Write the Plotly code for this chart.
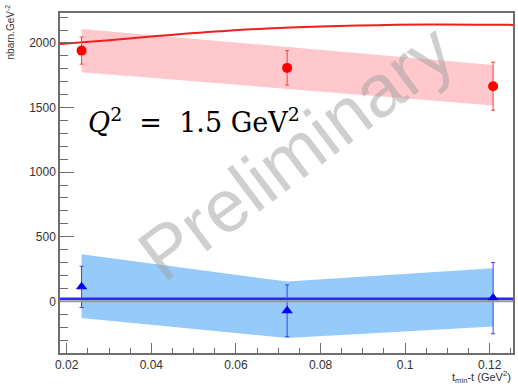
import plotly.graph_objects as go

# data
x_pts = [0.0235, 0.0721, 0.1208]

red_y = [1941, 1807, 1665]
red_err = [105, 133, 186]
red_band_hi = [2108, 1969, 1830]
red_band_lo = [1773, 1645, 1516]

blue_y = [112, -73, 25]
blue_err = [160, 200, 276]
blue_band_hi = [364, 153, 256]
blue_band_lo = [-130, -284, -194]

curve_x = [0.0184, 0.03, 0.042, 0.058, 0.073, 0.089, 0.105, 0.1255]
curve_y = [1992, 2022, 2056, 2095, 2120, 2135, 2143, 2140]

blue_line_x = [0.0184, 0.1255]
blue_line_y = [20, 20]

x_range = [0.0184, 0.1255]
y_range = [-400, 2232]

fig = go.Figure()

# red band
fig.add_trace(go.Scatter(
    x=x_pts + x_pts[::-1], y=red_band_hi + red_band_lo[::-1],
    fill="toself", fillcolor="rgb(255,200,204)", line=dict(width=0),
    mode="lines", hoverinfo="skip", showlegend=False))
# blue band
fig.add_trace(go.Scatter(
    x=x_pts + x_pts[::-1], y=blue_band_hi + blue_band_lo[::-1],
    fill="toself", fillcolor="rgb(150,202,250)", line=dict(width=0),
    mode="lines", hoverinfo="skip", showlegend=False))

# zero line
fig.add_shape(type="line", xref="paper", x0=0, x1=1, yref="y", y0=0, y1=0,
              line=dict(color="rgb(150,150,160)", width=2), layer="above")

# red model curve
fig.add_trace(go.Scatter(x=curve_x, y=curve_y, mode="lines",
                         line=dict(color="rgb(240,30,30)", width=2, shape="spline"),
                         showlegend=False))
# blue line
fig.add_trace(go.Scatter(x=blue_line_x, y=blue_line_y, mode="lines",
                         line=dict(color="rgb(40,40,255)", width=2.5),
                         showlegend=False))

# red points
fig.add_trace(go.Scatter(
    x=x_pts, y=red_y, mode="markers",
    marker=dict(symbol="circle", size=10, color="rgb(255,0,0)"),
    error_y=dict(type="data", array=red_err, color="rgb(255,60,60)", thickness=1, width=2),
    showlegend=False))
# blue points
fig.add_trace(go.Scatter(
    x=x_pts, y=blue_y, mode="markers",
    marker=dict(symbol="triangle-up", size=10, color="rgb(0,0,255)"),
    error_y=dict(type="data", array=blue_err, color="rgb(60,60,255)", thickness=1, width=2),
    showlegend=False))

axis_common = dict(showline=True, linecolor="rgb(110,110,110)", linewidth=1.5, mirror=True,
                   showgrid=False, zeroline=False, ticks="inside", tickcolor="rgb(110,110,110)",
                   tickfont=dict(family="Liberation Sans, Arial", size=12, color="rgb(50,50,50)"))

fig.update_xaxes(range=x_range, tick0=0.02, dtick=0.02, ticklen=10,
                 minor=dict(ticks="inside", dtick=0.005, ticklen=5, tickcolor="rgb(110,110,110)"),
                 **axis_common)
fig.update_yaxes(range=y_range, tick0=0, dtick=500, ticklen=14,
                 minor=dict(ticks="inside", dtick=100, ticklen=8, tickcolor="rgb(110,110,110)"),
                 **axis_common)

fig.add_annotation(text="<i>Q</i><sup>2</sup>&nbsp;&nbsp;=&nbsp;&nbsp;1.5&nbsp;GeV<sup>2</sup>",
                   xref="paper", yref="paper",
                   x=0.058, y=0.685, xanchor="left", yanchor="middle", showarrow=False,
                   font=dict(family="DejaVu Serif", size=27, color="black"))

fig.add_annotation(text="Preliminary", xref="paper", yref="paper",
                   x=0.52, y=0.59, xanchor="center", yanchor="middle", showarrow=False,
                   textangle=-37,
                   font=dict(family="Liberation Sans, Arial", size=74, color="rgba(160,160,160,0.5)"))

fig.add_annotation(text="nbarn.GeV<sup>-2</sup>", xref="paper", yref="paper",
                   x=-0.11, y=1.03, xanchor="center", yanchor="top", showarrow=False,
                   textangle=-90,
                   font=dict(family="Liberation Sans, Arial", size=10, color="rgb(50,50,50)"))

fig.add_annotation(text="t<sub>min</sub>-t (GeV<sup>2</sup>)", xref="paper", yref="paper",
                   x=1.0, y=-0.072, xanchor="right", yanchor="middle", showarrow=False,
                   font=dict(family="Liberation Sans, Arial", size=11, color="rgb(50,50,50)"))

fig.update_layout(width=518, height=389, margin=dict(l=60, r=3, t=13, b=36),
                  paper_bgcolor="white", plot_bgcolor="white")

fig.write_html("out.html")
